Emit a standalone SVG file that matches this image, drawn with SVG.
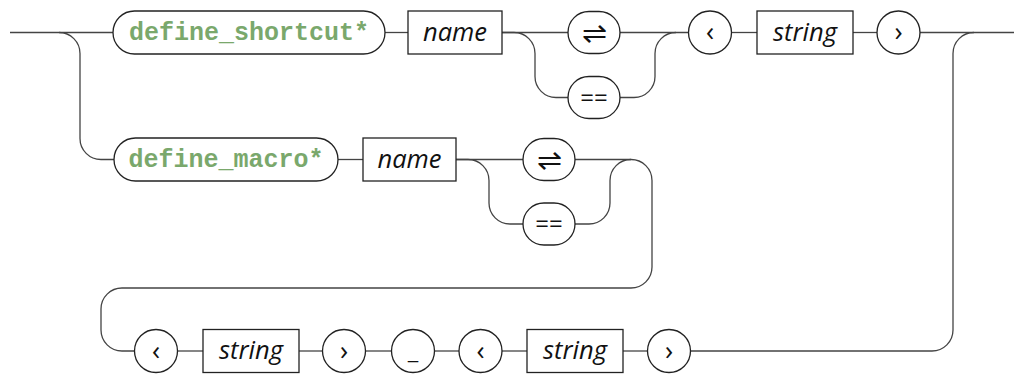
<svg xmlns="http://www.w3.org/2000/svg" width="1024" height="374" viewBox="0 0 1024 374">
<style>
.bg{fill:#ffffff}
.wire{fill:none;stroke:#444;stroke-width:1.3}
.node{fill:#ffffff;stroke:#222;stroke-width:1.3}
.kw{font-family:"Liberation Mono",monospace;font-weight:bold;font-size:25px;fill:#7aa86c;text-anchor:middle}
.nt{font-family:"Open Sans","Noto Sans",sans-serif;font-style:italic;font-size:25.5px;fill:#111;text-anchor:middle}
.t{font-family:"Open Sans","Noto Sans",sans-serif;font-size:24px;fill:#111;text-anchor:middle}
.ang{font-family:"Open Sans","Noto Sans",sans-serif;font-size:27px;fill:#111;text-anchor:middle}
.sym{font-family:"DejaVu Sans",sans-serif;font-weight:200;font-size:30px;fill:#111;text-anchor:middle}
</style>
<rect class="bg" x="0" y="0" width="1024" height="374"/>
<g id="connectors">
<path class="wire" d="M10,32.5 H113"/>
<path class="wire" d="M59,32.5 A21,21 0 0 1 80,53.5 V138.5 A21,21 0 0 0 101,159.5 H114"/>
<path class="wire" d="M385,32.5 H408"/>
<path class="wire" d="M502,32.5 H568"/>
<path class="wire" d="M502,32.5 H514 A21,21 0 0 1 535,53.5 V76.5 A21,21 0 0 0 556,97.5 H568"/>
<path class="wire" d="M620,97.5 H634 A21,21 0 0 0 655,76.5 V53.5 A21,21 0 0 1 676,32.5"/>
<path class="wire" d="M620,32.5 H688.5"/>
<path class="wire" d="M731.5,32.5 H757"/>
<path class="wire" d="M853,32.5 H877"/>
<path class="wire" d="M920,32.5 H1014"/>
<path class="wire" d="M690,351 H932 A21,21 0 0 0 953,330 V53.5 A21,21 0 0 1 974,32.5"/>
<path class="wire" d="M338,159.5 H363"/>
<path class="wire" d="M456,159.5 H523"/>
<path class="wire" d="M456,159.5 H468 A21,21 0 0 1 489,180.5 V203 A21,21 0 0 0 510,224 H523"/>
<path class="wire" d="M575,224 H589 A21,21 0 0 0 610,203 V180.5 A21,21 0 0 1 631,159.5"/>
<path class="wire" d="M575,159.5 H631 A21,21 0 0 1 652,180.5 V267 A21,21 0 0 1 631,288 H122 A21,21 0 0 0 101,309 V330 A21,21 0 0 0 122,351 H134.5"/>
<path class="wire" d="M177.5,351 H203"/>
<path class="wire" d="M299,351 H322.5"/>
<path class="wire" d="M365.5,351 H391.5"/>
<path class="wire" d="M434.5,351 H459"/>
<path class="wire" d="M502,351 H527"/>
<path class="wire" d="M623,351 H647.5"/>
</g>
<g id="define_shortcut">
<rect class="node" x="113" y="11" width="272" height="43" rx="21.5"/>
<text class="kw" x="249" y="40">define_shortcut*</text>
</g>
<g id="name1">
<rect class="node" x="408" y="11" width="94" height="43"/>
<text class="nt" x="455" y="40.5">name</text>
</g>
<g id="arrows1">
<rect class="node" x="568" y="11.5" width="52" height="42" rx="21"/>
<text class="sym" x="594" y="43">⇌</text>
</g>
<g id="eq1">
<rect class="node" x="568" y="76.5" width="52" height="42" rx="21"/>
<text class="t" x="594" y="105.5">==</text>
</g>
<g id="lt1">
<circle class="node" cx="710" cy="32.5" r="21.5"/>
<text class="ang" x="710" y="41">‹</text>
</g>
<g id="string1">
<rect class="node" x="757" y="11" width="96" height="43"/>
<text class="nt" x="805" y="40.5">string</text>
</g>
<g id="gt1">
<circle class="node" cx="898.5" cy="32.5" r="21.5"/>
<text class="ang" x="898.5" y="41">›</text>
</g>
<g id="define_macro">
<rect class="node" x="114" y="138" width="224" height="43" rx="21.5"/>
<text class="kw" x="226" y="167">define_macro*</text>
</g>
<g id="name2">
<rect class="node" x="363" y="138" width="93" height="43"/>
<text class="nt" x="409.5" y="167.5">name</text>
</g>
<g id="arrows2">
<rect class="node" x="523" y="138.5" width="52" height="42" rx="21"/>
<text class="sym" x="549" y="170">⇌</text>
</g>
<g id="eq2">
<rect class="node" x="523" y="203" width="52" height="42" rx="21"/>
<text class="t" x="549" y="232">==</text>
</g>
<g id="lt2">
<circle class="node" cx="156" cy="351" r="21.5"/>
<text class="ang" x="156" y="359.5">‹</text>
</g>
<g id="string2">
<rect class="node" x="203" y="329.5" width="96" height="43"/>
<text class="nt" x="251" y="359">string</text>
</g>
<g id="gt2">
<circle class="node" cx="344" cy="351" r="21.5"/>
<text class="ang" x="344" y="359.5">›</text>
</g>
<g id="underscore">
<circle class="node" cx="413" cy="351" r="21.5"/>
<text class="t" x="413" y="358.5">_</text>
</g>
<g id="lt3">
<circle class="node" cx="480.5" cy="351" r="21.5"/>
<text class="ang" x="480.5" y="359.5">‹</text>
</g>
<g id="string3">
<rect class="node" x="527" y="329.5" width="96" height="43"/>
<text class="nt" x="575" y="359">string</text>
</g>
<g id="gt3">
<circle class="node" cx="669" cy="351" r="21.5"/>
<text class="ang" x="669" y="359.5">›</text>
</g>
</svg>
